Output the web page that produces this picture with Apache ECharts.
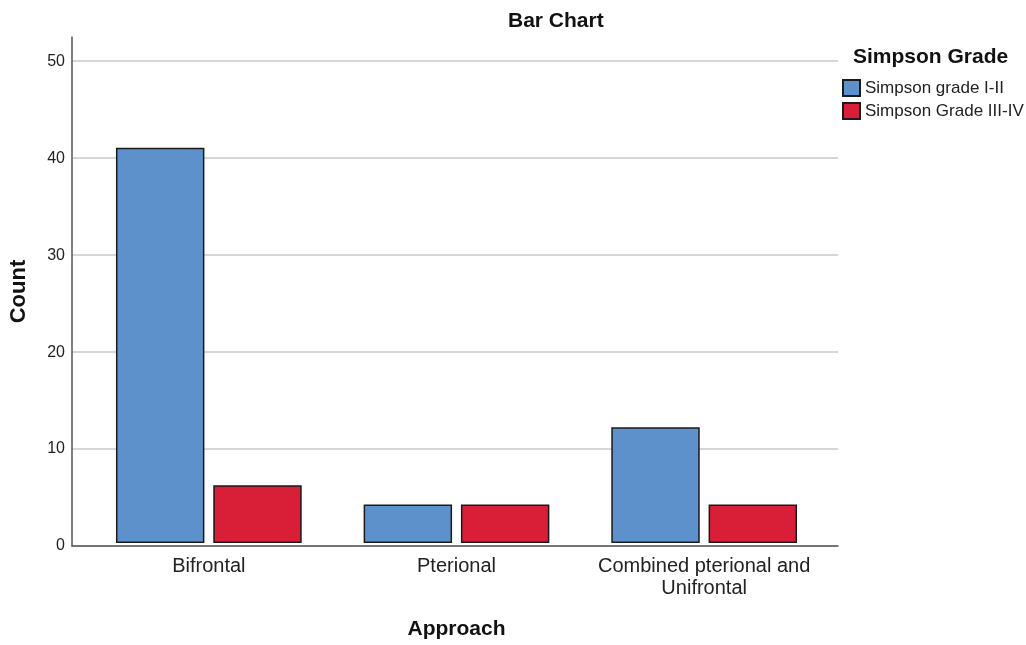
<!DOCTYPE html>
<html><head><meta charset="utf-8">
<script src="https://cdn.jsdelivr.net/npm/echarts@6/dist/echarts.min.js"></script>
<style>html,body{margin:0;padding:0;background:#fff}#c{width:1026px;height:645px}</style>
</head><body><div id="c"></div>
<script>
const categories = ['Bifrontal', 'Pterional', 'Combined pterional and\nUnifrontal'];
const seriesNames = ['Simpson grade I-II', 'Simpson Grade III-IV'];
const gradeI_II = [41, 4, 12];
const gradeIII_IV = [6, 4, 4];
const yTicks = [0, 10, 20, 30, 40, 50];

const chart = echarts.init(document.getElementById('c'));
const F = 'Liberation Sans, Arial, sans-serif';
const gTop = 37, gBottom = 645 - 546;
chart.setOption({
  animation: false,
  title: { text: 'Bar Chart', left: 503, top: 6, textStyle: { fontFamily: F, fontSize: 21, fontWeight: 'bold', color: '#111' } },
  legend: {
    orient: 'vertical', left: 837, top: 74, itemWidth: 17, itemHeight: 16, itemGap: 5,
    data: seriesNames, icon: 'rect',
    textStyle: { fontFamily: F, fontSize: 17, color: '#222', lineHeight: 17 }
  },
  graphic: [{ type: 'text', left: 853, top: 47, style: { text: 'Simpson Grade', fontFamily: F, fontSize: 21, fontWeight: 'bold', fill: '#111' } }],
  grid: [
    { left: 72, width: 766, top: gTop, bottom: gBottom },
    { left: 85, width: 743, top: gTop, bottom: gBottom }
  ],
  xAxis: [
    { gridIndex: 0, type: 'value', min: 0, max: 1, axisLine: { show: true, lineStyle: { color: '#555', width: 1.5 } }, axisTick: { show: false }, axisLabel: { show: false }, splitLine: { show: false } },
    { gridIndex: 1, type: 'category', data: categories, axisLine: { show: false }, axisTick: { show: false },
      axisLabel: { interval: 0, fontFamily: F, fontSize: 20, color: '#222', margin: 12, lineHeight: 22 },
      name: 'Approach', nameLocation: 'middle', nameGap: 76, nameTextStyle: { fontFamily: F, fontSize: 21, fontWeight: 'bold', color: '#111' } }
  ],
  yAxis: [
    { gridIndex: 0, type: 'value', min: 0, max: 52.5, interval: 10,
      axisLine: { show: true, lineStyle: { color: '#555', width: 1.5 } }, axisTick: { show: false },
      axisLabel: { fontFamily: F, fontSize: 16, color: '#222', margin: 7, showMaxLabel: false, formatter: v => yTicks.includes(v) ? String(v) : '' },
      splitLine: { show: true, lineStyle: { color: ['#c8c8c8', '#c8c8c8', '#c8c8c8', '#c8c8c8', '#c8c8c8', '#c8c8c8', 'rgba(0,0,0,0)'], width: 1.5 } },
      name: 'Count', nameLocation: 'middle', nameGap: 42, nameRotate: 90, nameTextStyle: { fontFamily: F, fontSize: 22, fontWeight: 'bold', color: '#111' } },
    { gridIndex: 1, type: 'value', min: 0, max: 52.5, show: false, splitLine: { show: false } }
  ],
  series: [
    { name: seriesNames[0], type: 'bar', xAxisIndex: 1, yAxisIndex: 1, data: gradeI_II, barCategoryGap: '25%', barGap: '10%',
      itemStyle: { color: '#5d91cc', borderColor: '#1a1a1a', borderWidth: 1.5 } },
    { name: seriesNames[1], type: 'bar', xAxisIndex: 1, yAxisIndex: 1, data: gradeIII_IV, barCategoryGap: '25%', barGap: '10%',
      itemStyle: { color: '#d91e37', borderColor: '#1a1a1a', borderWidth: 1.5 } }
  ]
});
</script></body></html>
